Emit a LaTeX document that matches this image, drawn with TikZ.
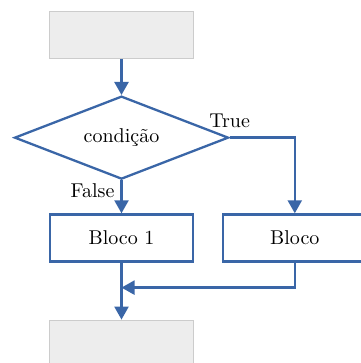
\documentclass[tikz,border=0pt]{standalone}
\usetikzlibrary{positioning,shapes.geometric,arrows.meta}
\definecolor{azul}{RGB}{58,102,167}
\definecolor{cinzaclaro}{RGB}{237,237,237}
\definecolor{cinzaborda}{RGB}{204,204,204}

\begin{document}
\begin{tikzpicture}[
    caixa/.style={draw=azul,line width=1.15pt,minimum width=71.5pt,minimum height=23.5pt,inner sep=0pt},
    vazio/.style={draw=cinzaborda,fill=cinzaclaro,line width=0.5pt,minimum width=72pt,minimum height=23.5pt,inner sep=0pt},
    decisao/.style={diamond,draw=azul,line width=1.15pt,minimum width=107pt,minimum height=41.5pt,inner sep=0pt,aspect=2.57},
    seta/.style={draw=azul,line width=1.15pt,-{Triangle[length=6.5pt,width=7pt]}}
]
    \useasboundingbox (-60.75pt,17.5pt) rectangle (119.25pt,-164pt);
    \node[vazio] (inicio) at (0,0) {};
    \node[decisao,below=18pt of inicio] (cond) {condição};
    \node[caixa,below=16.5pt of cond] (bloco1) {Bloco 1};
    \node[caixa,right=14pt of bloco1] (bloco2) {Bloco};
    \node[vazio,below=28.5pt of bloco1] (fim) {};
    \coordinate[below=12.5pt of bloco1] (juncao);

    \draw[seta] (inicio) -- (cond);
    \draw[seta] (cond.east) -| (bloco2);
    \draw[seta] (cond) -- (bloco1);
    \draw[seta] (bloco1) -- (fim);
    \draw[seta] (bloco2) |- (juncao);

    \node[above,yshift=1.5pt] at (cond.east) {True};
    \node[anchor=north east,yshift=2pt] at (cond.south) {False};
\end{tikzpicture}
\end{document}
